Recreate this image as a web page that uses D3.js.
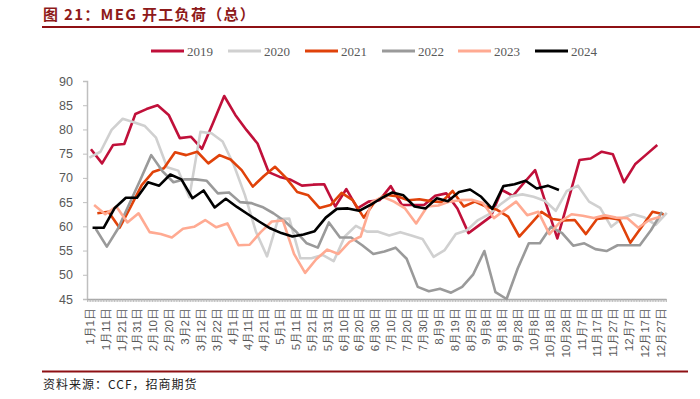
<!DOCTYPE html>
<html><head><meta charset="utf-8">
<script src="https://cdn.jsdelivr.net/npm/d3@7"></script>
<style>body{margin:0;background:#fff}svg{display:block}</style>
</head><body><svg id="c" width="700" height="399"></svg>
<script>
// ---- data ----
const years = ["2019","2020","2021","2022","2023","2024"];
const colors = ["#C0103A","#D0D0D0","#E0420A","#9A9A9A","#FFAA92","#000000"];
// first data day-of-year (weekly observations, every 7 days)
const startDays = [3, 2, 7, 6, 5, 4];
const v2019 = [75.9,73.0,76.8,77.0,83.2,84.2,85.0,83.0,78.2,78.5,76.0,81.4,86.9,83.0,79.9,77.1,71.2,70.2,69.6,68.4,68.6,68.7,64.1,67.7,63.7,65.1,65.4,68.3,64.4,64.4,64.4,66.3,66.8,63.7,58.6,60.3,62.0,67.5,66.3,69.0,71.6,64.5,57.5,65.5,73.7,74.0,75.4,74.9,69.1,72.8,74.8,76.8];
const v2020 = [74.2,75.4,79.9,82.2,81.5,80.7,78.3,72.2,71.5,66.0,79.5,79.2,77.5,72.7,66.5,58.9,53.8,61.5,61.6,53.4,53.4,54.1,52.8,57.9,60.1,58.9,58.9,58.1,58.8,58.1,57.4,53.7,55.1,58.4,59.2,61.3,62.5,64.5,66.2,66.6,66.1,65.3,63.2,67.3,68.4,65.1,63.8,59.9,61.7,62.5,61.8,60.3,62.8];
const v2021 = [62.7,63.0,59.7,64.0,68.5,71.2,72.0,75.3,74.7,75.4,73.0,74.7,73.8,71.6,68.2,70.4,72.3,70.0,67.1,66.4,63.8,64.4,66.9,65.4,61.8,65.1,66.5,66.2,65.4,65.6,65.2,65.0,67.3,64.1,65.1,64.1,63.4,62.0,57.9,60.4,63.0,61.5,61.2,61.3,58.4,61.5,61.8,61.4,56.6,59.8,63.0,62.5];
const v2022 = [59.5,55.8,59.5,64.5,69.5,74.7,71.4,69.1,69.7,69.7,69.4,66.8,67.0,65.0,64.8,64.0,62.7,61.1,59.0,56.5,55.6,60.8,57.7,57.7,56.1,54.3,54.8,55.6,53.3,47.5,46.6,47.1,46.3,47.5,50.1,54.9,46.4,45.0,51.3,56.5,56.5,59.9,58.6,56.0,56.5,55.3,54.9,56.1,56.1,56.1,59.2,63.0];
const v2023 = [64.4,62.5,64.1,60.8,62.7,58.8,58.4,57.7,59.5,59.9,61.3,59.8,60.6,56.1,56.2,58.8,61.0,61.2,54.3,50.4,53.2,55.2,54.3,56.8,57.9,65.0,66.1,65.1,63.7,60.6,64.1,64.3,65.1,65.4,65.5,64.8,61.7,63.4,65.1,62.3,63.0,58.4,61.0,62.5,62.2,61.7,62.3,61.8,61.7,59.7,61.3,62.0];
const v2024 = [59.7,59.7,63.8,65.9,65.9,69.1,68.4,70.7,69.7,65.8,67.4,63.9,65.7,64.0,62.5,61.0,59.6,58.6,57.9,58.3,59.0,61.8,63.6,63.7,63.2,64.4,65.8,67.0,66.4,64.1,63.7,65.8,65.2,67.1,67.6,66.1,63.6,68.3,68.7,69.4,67.8,68.4,67.5];
const seriesValues = [v2019, v2020, v2021, v2022, v2023, v2024];
const xTickLabels = ["1月1日","1月11日","1月21日","1月31日","2月10日","2月20日","3月2日","3月12日","3月22日","4月1日","4月11日","4月21日","5月1日","5月11日","5月21日","5月31日","6月10日","6月20日","6月30日","7月10日","7月20日","7月30日","8月9日","8月19日","8月29日","9月8日","9月18日","9月28日","10月8日","10月18日","10月28日","11月7日","11月17日","11月27日","12月7日","12月17日","12月27日"];
const yTicks = [45,50,55,60,65,70,75,80,85,90];
const titleText = "图 21：MEG 开工负荷（总）";
const sourceText = "资料来源：CCF，招商期货";

// ---- chart ----
const svg = d3.select("#c");
const L = 87, R = 666, T = 81, B = 299;
const x = d3.scaleLinear().domain([0.5, 365.5]).range([L, R]);
const y = d3.scaleLinear().domain([45, 90]).range([B, T]);
const red = "#8E1014";

svg.append("text").attr("x", 43).attr("y", 20)
  .attr("font-family", "'Noto Sans CJK SC', sans-serif").attr("font-weight", "bold")
  .attr("font-size", 15).attr("letter-spacing", 1.3).attr("fill", "#8E1A1A").text(titleText);
svg.append("line").attr("x1", 42).attr("x2", 700).attr("y1", 27).attr("y2", 27)
  .attr("stroke", red).attr("stroke-width", 2);
svg.append("line").attr("x1", 42).attr("x2", 688).attr("y1", 371.5).attr("y2", 371.5)
  .attr("stroke", red).attr("stroke-width", 2);
svg.append("text").attr("x", 43).attr("y", 389)
  .attr("font-family", "'Noto Sans CJK SC', sans-serif")
  .attr("font-size", 12).attr("letter-spacing", 1).attr("fill", "#222").text(sourceText);

// y axis
const yAxis = d3.axisLeft(y).tickValues(yTicks).tickSize(4).tickPadding(10);
const gy = svg.append("g").attr("transform", `translate(${L},0)`).call(yAxis);
gy.select(".domain").attr("stroke", "#BFBFBF").attr("stroke-width", 1.5);
gy.selectAll(".tick line").attr("stroke", "#BFBFBF");
gy.selectAll(".tick text").attr("font-family", "'Liberation Sans', Arial, sans-serif")
  .attr("font-size", 12.5).attr("fill", "#595959");

// x axis with daily minor ticks
const dayTicks = d3.range(0.5, 366, 1);
const xAxis = d3.axisBottom(x).tickValues(dayTicks).tickSize(3).tickFormat("").tickSizeOuter(0);
const gx = svg.append("g").attr("transform", `translate(0,${B})`).call(xAxis);
gx.select(".domain").attr("stroke", "#A6A6A6").attr("stroke-width", 1.5);
gx.selectAll(".tick line").attr("stroke", "#B0B0B0").attr("stroke-width", 0.8);

const labelDays = xTickLabels.map((_, i) => 1 + 10 * i);
svg.append("g").selectAll("text").data(xTickLabels).join("text")
  .attr("transform", (d, i) => `translate(${x(labelDays[i]) + 2},${B + 9}) rotate(-90)`)
  .attr("text-anchor", "end").attr("dy", "0.35em")
  .attr("font-family", "'Liberation Sans', Arial, sans-serif")
  .attr("font-size", 11.5).attr("fill", "#595959")
  .text(d => d);

// lines
const line = d3.line().x(d => x(d[0])).y(d => y(d[1]));
years.forEach((yr, si) => {
  const pts = seriesValues[si].map((v, i) => [startDays[si] + 7 * i, v]);
  svg.append("path").datum(pts).attr("d", line)
    .attr("fill", "none").attr("stroke", colors[si]).attr("stroke-width", 2.6)
    .attr("stroke-linejoin", "round");
});

// legend
const legX = [151, 228, 305, 382, 458, 535];
const lg = svg.append("g");
years.forEach((yr, i) => {
  lg.append("line").attr("x1", legX[i]).attr("x2", legX[i] + 33).attr("y1", 51).attr("y2", 51)
    .attr("stroke", colors[i]).attr("stroke-width", 3);
  lg.append("text").attr("x", legX[i] + 36).attr("y", 55.5)
    .attr("font-family", "'Liberation Serif', 'Times New Roman', serif")
    .attr("font-size", 13).attr("fill", "#595959").text(yr);
});
</script></body></html>
